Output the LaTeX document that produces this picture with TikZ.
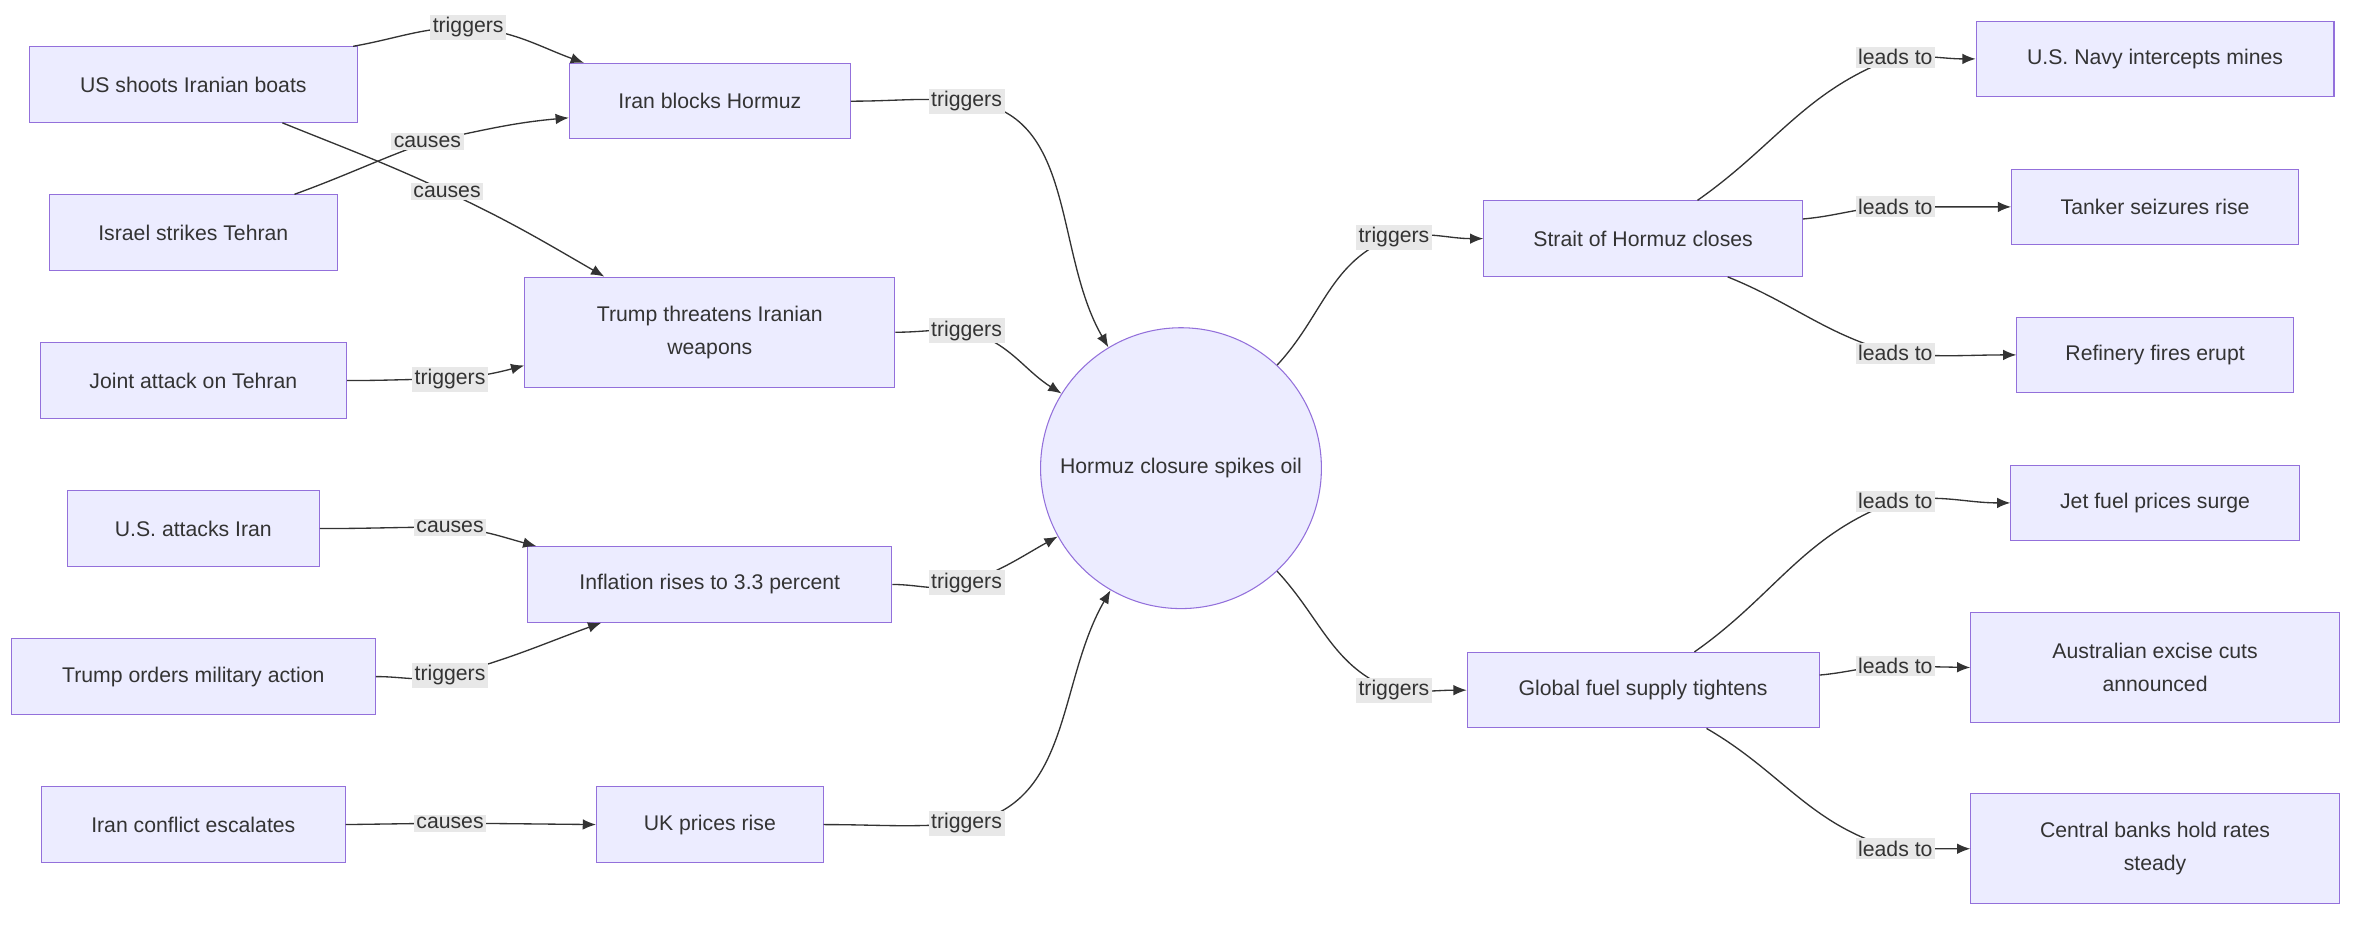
\documentclass[tikz,border=0pt]{standalone}
\usepackage{fontspec}
\setmainfont{Liberation Sans}
\usetikzlibrary{calc,arrows.meta}
\definecolor{nfill}{HTML}{ECECFF}
\definecolor{nbord}{HTML}{9370DB}
\definecolor{lfill}{HTML}{E8E8E8}
\definecolor{ecol}{HTML}{333333}
\begin{document}
\begin{tikzpicture}[x=0.02cm,y=0.02cm,
  box/.style={draw=nbord,fill=nfill,minimum height=1cm,align=center,font=\fontsize{8}{12.5}\selectfont,text=ecol},
  circ/.style={draw=nbord,fill=nfill,circle,minimum size=3.72cm,font=\fontsize{8}{12.5}\selectfont,text=ecol},
  lbl/.style={fill=lfill,inner sep=1pt,font=\fontsize{8}{10}\selectfont,text=ecol},
  ed/.style={draw=ecol,line width=0.5pt,-{Latex[length=5pt,width=4pt]}}]
\useasboundingbox (0,0) rectangle (1568,-612);
\node[box,minimum width=4.34cm] (usb) at (128,-56) {US shoots Iranian boats};
\node[box,minimum width=3.82cm] (isr) at (128,-154) {Israel strikes Tehran};
\node[box,minimum width=4.06cm] (jt) at (128,-252) {Joint attack on Tehran};
\node[box,minimum width=3.34cm] (usa) at (128,-350) {U.S. attacks Iran};
\node[box,minimum width=4.82cm] (tro) at (128,-448) {Trump orders military action};
\node[box,minimum width=4.02cm] (ice) at (128,-546) {Iran conflict escalates};
\node[box,minimum width=3.72cm] (ib) at (470,-67) {Iran blocks Hormuz};
\node[box,minimum width=4.9cm,minimum height=1.46cm] (tt) at (470,-220) {Trump threatens Iranian\\weapons};
\node[box,minimum width=4.82cm] (inf) at (470,-387) {Inflation rises to 3.3 percent};
\node[box,minimum width=3.0cm] (uk) at (470,-546) {UK prices rise};
\node[circ] (c) at (782,-310) {Hormuz closure spikes oil};
\node[box,minimum width=4.22cm] (sh) at (1088,-158) {Strait of Hormuz closes};
\node[box,minimum width=4.66cm] (gf) at (1088,-457) {Global fuel supply tightens};
\node[box,minimum width=4.74cm] (nav) at (1427,-39) {U.S. Navy intercepts mines};
\node[box,minimum width=3.8cm] (tan) at (1427,-137) {Tanker seizures rise};
\node[box,minimum width=3.66cm] (ref) at (1427,-235) {Refinery fires erupt};
\node[box,minimum width=3.82cm] (jet) at (1427,-333) {Jet fuel prices surge};
\node[box,minimum width=4.88cm,minimum height=1.46cm] (aus) at (1427,-442) {Australian excise cuts\\announced};
\node[box,minimum width=4.88cm,minimum height=1.46cm] (cb) at (1427,-562) {Central banks hold rates\\steady};
% label coordinates
\coordinate (l1) at (310,-18); \coordinate (l2) at (283,-94); \coordinate (l3) at (296,-127);
\coordinate (l4) at (298,-251); \coordinate (l5) at (298,-349); \coordinate (l6) at (298,-447);
\coordinate (l7) at (298,-545); \coordinate (l8) at (640,-67); \coordinate (l9) at (640,-219);
\coordinate (l10) at (640,-386); \coordinate (l11) at (640,-545); \coordinate (l12) at (923,-157);
\coordinate (l13) at (923,-457); \coordinate (l14) at (1255,-38); \coordinate (l15) at (1255,-137);
\coordinate (l16) at (1255,-234); \coordinate (l17) at (1255,-332); \coordinate (l18) at (1255,-441);
\coordinate (l19) at (1255,-562);
% edges
\path[ed] ($(usb.north east)+(-3,0)$) to[out=10,in=180] (l1) to[out=-5,in=160] ($(ib.north west)+(10,0)$);
\path[ed] ($(isr.north)+(67,0)$) to[out=20,in=200] (l2) to[out=12,in=185] ($(ib.west)+(0,-11)$);
\path[ed] ($(usb.south)+(59,0)$) to[out=-22,in=155] (l3) to[out=-25,in=150] ($(tt.north west)+(53,0)$);
\path[ed] (jt.east) to[out=0,in=180] (l4) to[out=5,in=195] ($(tt.west)+(0,-22)$);
\path[ed] (usa.east) to[out=0,in=180] (l5) to[out=-5,in=165] ($(inf.north west)+(6,0)$);
\path[ed] (tro.east) to[out=0,in=195] (l6) to[out=15,in=200] ($(inf.south west)+(49,0)$);
\path[ed] (ice.east) -- (l7) -- (uk.west);
\path[ed] (ib.east) to[out=0,in=175] (l8) to[out=-5,in=120] (c.121);
\path[ed] (tt.east) to[out=0,in=175] (l9) to[out=-15,in=148] (c.148);
\path[ed] (inf.east) to[out=0,in=200] (l10) to[out=20,in=209] (c.209);
\path[ed] (uk.east) to[out=0,in=185] (l11) to[out=10,in=240] (c.240);
\path[ed] (c.47) to[out=47,in=200] (l12) to[out=10,in=180] (sh.west);
\path[ed] (c.-47) to[out=-47,in=160] (l13) to[out=-5,in=180] (gf.west);
\path[ed] ($(sh.north)+(36,0)$) to[out=35,in=200] (l14) to[out=5,in=180] (nav.west);
\path[ed] ($(sh.east)+(0,13)$) to[out=5,in=180] (l15) -- (tan.west);
\path[ed] ($(sh.south)+(56,0)$) to[out=-22,in=165] (l16) to[out=-5,in=180] (ref.west);
\path[ed] ($(gf.north)+(34,0)$) to[out=35,in=200] (l17) to[out=10,in=180] (jet.west);
\path[ed] ($(gf.east)+(0,10)$) to[out=5,in=180] (l18) -- (aus.west);
\path[ed] ($(gf.south)+(42,0)$) to[out=-30,in=165] (l19) to[out=0,in=180] (cb.west);
% labels
\node[lbl] at (l1) {triggers}; \node[lbl] at (l2) {causes}; \node[lbl] at (l3) {causes};
\node[lbl] at (l4) {triggers}; \node[lbl] at (l5) {causes}; \node[lbl] at (l6) {triggers};
\node[lbl] at (l7) {causes}; \node[lbl] at (l8) {triggers}; \node[lbl] at (l9) {triggers};
\node[lbl] at (l10) {triggers}; \node[lbl] at (l11) {triggers}; \node[lbl] at (l12) {triggers};
\node[lbl] at (l13) {triggers}; \node[lbl] at (l14) {leads to}; \node[lbl] at (l15) {leads to};
\node[lbl] at (l16) {leads to}; \node[lbl] at (l17) {leads to}; \node[lbl] at (l18) {leads to};
\node[lbl] at (l19) {leads to};
\end{tikzpicture}
\end{document}
